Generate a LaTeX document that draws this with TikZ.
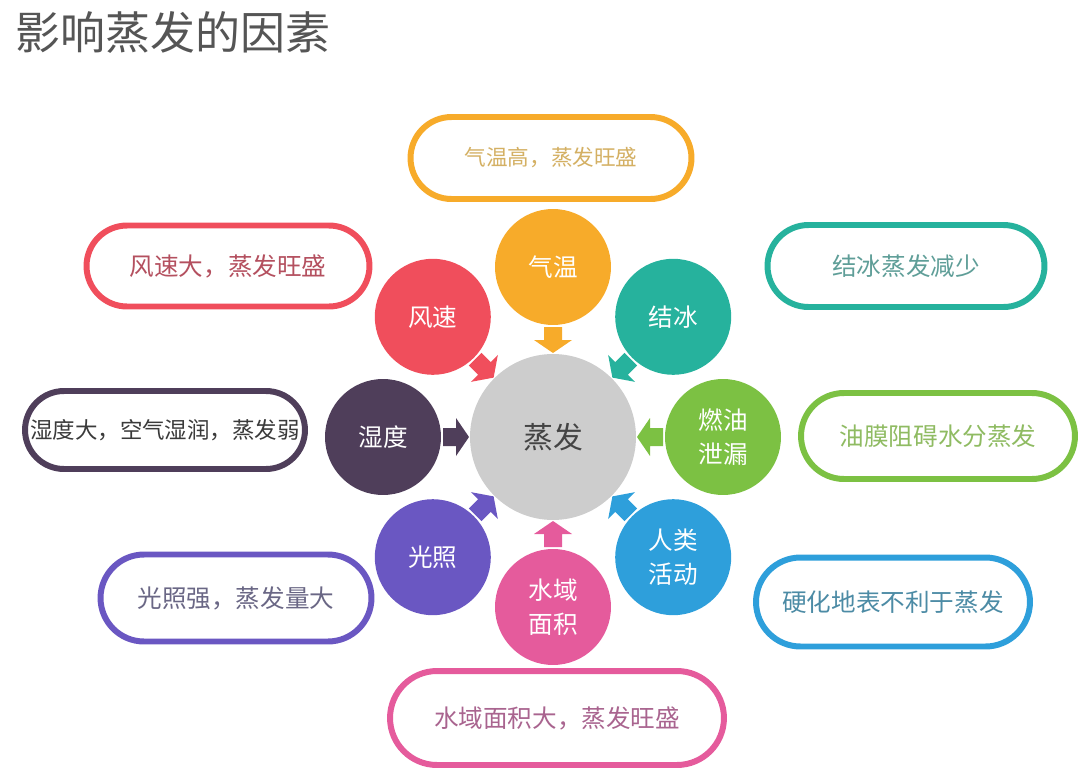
\documentclass[tikz,border=0pt]{standalone}
\usepackage{fontspec}
\setmainfont{Noto Sans CJK SC}
\usetikzlibrary{shapes.misc}

\definecolor{cTitle}{HTML}{555555}
\definecolor{cHub}{HTML}{CDCDCD}
\definecolor{cHubText}{HTML}{444444}
\definecolor{cTemp}{HTML}{F7AB2A}
\definecolor{cIce}{HTML}{26B29D}
\definecolor{cOil}{HTML}{7CC143}
\definecolor{cHuman}{HTML}{2E9FDB}
\definecolor{cWater}{HTML}{E55B9C}
\definecolor{cLight}{HTML}{6A57C2}
\definecolor{cHumid}{HTML}{4F3E5A}
\definecolor{cWind}{HTML}{F04E5C}
% muted text colours in the notes
\definecolor{tTemp}{HTML}{D4B063}
\definecolor{tIce}{HTML}{5F9E98}
\definecolor{tOil}{HTML}{8FBB62}
\definecolor{tHuman}{HTML}{4C8BA5}
\definecolor{tWater}{HTML}{A9648F}
\definecolor{tLight}{HTML}{6A6785}
\definecolor{tHumid}{HTML}{3A3A3A}
\definecolor{tWind}{HTML}{B4505F}

\newcommand\notefont{\fontsize{14pt}{17pt}\selectfont}

\tikzset{
  hub/.style={circle, fill=cHub, minimum size=3.32cm, inner sep=0pt, text=cHubText, font=\fontsize{17pt}{20pt}\selectfont},
  factor/.style={circle, fill=#1, minimum size=2.32cm, inner sep=0pt, text=white, align=center, font=\fontsize{14pt}{19pt}\selectfont},
  note/.style={rounded rectangle, draw=#1, line width=3.4pt, fill=white, inner sep=0pt, font=\notefont},
}

\begin{document}
\begin{tikzpicture}[x=0.02cm, y=0.02cm]
\useasboundingbox (0,0) rectangle (1080,-771);
% title:
\node[anchor=west, text=cTitle, font=\fontsize{25.6pt}{30pt}\selectfont] (title) at (9,-32) {影响蒸发的因素};
% centre:
\node[hub] (hub) at (553,-437) {蒸发};
% factors round the centre, each with its arrow in:
\foreach \name/\ang/\col/\txt in {temp/90/cTemp/气温, ice/45/cIce/结冰, oil/0/cOil/燃油\\泄漏, human/-45/cHuman/人类\\活动, water/-90/cWater/水域\\面积, light/-135/cLight/光照, humid/180/cHumid/湿度, wind/135/cWind/风速}{
  \node[factor=\col] (\name) at ([shift={(\ang:170)}]hub) {\txt};
  \fill[\col, shift={(hub)}, rotate=\ang] (110,9) -- (97,9) -- (97,19) -- (84,0) -- (97,-19) -- (97,-9) -- (110,-9) -- cycle;
}
% notes:
\node[note=cTemp, text=tTemp, minimum width=5.62cm, minimum height=1.64cm, font=\fontsize{12.3pt}{15pt}\selectfont] (tempnote) at (551,-158) {气温高，蒸发旺盛};
\node[note=cWind, text=tWind, minimum width=5.66cm, minimum height=1.62cm] (windnote) at (228,-266) {风速大，蒸发旺盛};
\node[note=cIce, text=tIce, minimum width=5.54cm, minimum height=1.64cm] (icenote) at (906,-266) {结冰蒸发减少};
\node[note=cHumid, text=tHumid, minimum width=5.6cm, minimum height=1.56cm, font=\fontsize{12.8pt}{16pt}\selectfont] (humidnote) at (165,-430) {湿度大，空气湿润，蒸发弱};
\node[note=cOil, text=tOil, minimum width=5.48cm, minimum height=1.72cm] (oilnote) at (938,-436) {油膜阻碍水分蒸发};
\node[note=cLight, text=tLight, minimum width=5.42cm, minimum height=1.74cm] (lightnote) at (236,-598) {光照强，蒸发量大};
\node[note=cHuman, text=tHuman, minimum width=5.48cm, minimum height=1.78cm] (humannote) at (893,-602) {硬化地表不利于蒸发};
\node[note=cWater, text=tWater, minimum width=6.68cm, minimum height=1.88cm] (waternote) at (557,-718) {水域面积大，蒸发旺盛};
\end{tikzpicture}
\end{document}
